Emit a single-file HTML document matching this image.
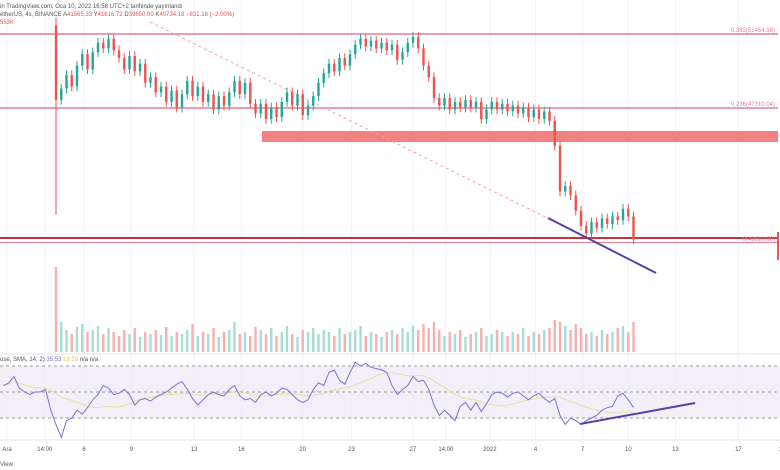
<!DOCTYPE html>
<html><head><meta charset="utf-8"><style>
html,body{margin:0;padding:0;background:#fff;}
svg{display:block;font-family:"Liberation Sans","Noto Sans CJK SC",sans-serif;}
</style></head><body>
<svg id="c" width="780" height="470" viewBox="0 0 780 470">
<rect x="0" y="0" width="780" height="470" fill="#fff"/>
<g id="grid"></g>
<rect x="0" y="366" width="780" height="52" fill="#ede8f7" opacity="0.7"/>
<line x1="0" y1="366" x2="780" y2="366" stroke="#999" stroke-dasharray="3,3"/>
<line x1="0" y1="392" x2="780" y2="392" stroke="#999" stroke-dasharray="3,3"/>
<line x1="0" y1="418" x2="780" y2="418" stroke="#999" stroke-dasharray="3,3"/>
<line x1="0" y1="354" x2="780" y2="354" stroke="#e0e3eb"/>
<line x1="0" y1="34" x2="778" y2="34" stroke="#e57f95" stroke-width="1.5"/>
<text x="775" y="32" font-size="6" fill="#e57f95" text-anchor="end">0.382(51454.98)</text>
<line x1="0" y1="108" x2="778" y2="108" stroke="#e57f95" stroke-width="1.5"/>
<text x="775" y="106" font-size="6" fill="#e57f95" text-anchor="end">0.236(47310.04)</text>
<rect x="262" y="131" width="516" height="11" fill="#f28282"/>
<line x1="0" y1="238" x2="778" y2="238" stroke="#c8323c" stroke-width="2"/>
<line x1="0" y1="242.5" x2="778" y2="242.5" stroke="#e57f95" stroke-width="1"/>
<text x="775" y="241" font-size="6" fill="#e57f95" text-anchor="end">0(40610.00)</text>
<line x1="778" y1="232" x2="778" y2="260" stroke="#ef5350" stroke-width="2"/>
<line x1="150" y1="22" x2="592" y2="240" stroke="#f2a0a8" stroke-dasharray="3,3"/>
<g id="vol"></g>
<g id="candles"></g>
<line x1="548" y1="218" x2="656" y2="273" stroke="#5b3ea6" stroke-width="2"/>
<path id="sma" fill="none" stroke="#e8df9c" stroke-width="1"/>
<path id="rsi" fill="none" stroke="#7e6fd0" stroke-width="1"/>
<line x1="580" y1="424" x2="695" y2="403" stroke="#5b3ea6" stroke-width="2"/>
<g id="xaxis"></g>
<line x1="0" y1="440" x2="780" y2="440" stroke="#e0e3eb"/>
<text x="0" y="8" font-size="6" fill="#555">in TradingView.com, Oca 10, 2022 16:58 UTC+2 tarihinde yayınlandı</text>
<text x="0" y="16" font-size="6" fill="#555">etherUS, 4s, BINANCE  A<tspan fill="#ef5350">41565.33</tspan> Y<tspan fill="#ef5350">41616.72</tspan> D<tspan fill="#ef5350">39650.00</tspan> K<tspan fill="#ef5350">40734.18 −831.16 (−2.00%)</tspan></text>
<text x="0" y="24" font-size="6" fill="#ef5350">553K</text>
<text x="0" y="361" font-size="6" fill="#555">ose, SMA, 14, 2) <tspan fill="#7e6fd0">35.53</tspan> <tspan fill="#d8c860">18.59</tspan> n/a n/a</text>
<text x="0" y="466" font-size="6" fill="#555">View</text>
</svg>
<script>
const open0 = 51.9;
const closes = [48.0,48.6,49.3,48.7,49.8,50.4,49.6,50.5,51.0,50.7,51.2,50.6,50.2,49.6,50.3,49.5,49.9,48.9,49.2,48.4,48.7,47.9,48.5,47.6,48.3,49.0,48.2,48.7,47.9,48.3,47.5,48.2,47.7,48.4,49.0,48.3,48.9,47.8,47.3,47.8,47.0,47.6,47.1,47.9,48.4,47.7,48.3,47.2,47.7,48.2,48.9,49.4,49.9,49.5,50.2,49.8,50.4,50.9,51.2,50.8,51.1,50.7,51.0,50.6,50.9,50.1,50.5,51.0,51.3,50.7,49.8,49.2,48.1,47.7,48.1,47.5,47.9,47.6,48.0,47.6,47.9,47.0,47.5,47.9,47.5,47.8,47.4,47.7,47.3,47.6,47.1,47.5,47.0,47.4,46.9,45.6,43.2,43.5,43.0,42.2,41.4,41.0,41.6,41.3,41.8,41.5,41.9,41.7,42.3,41.9,40.7];
const volumes = [85,30,22,18,25,28,20,22,26,18,24,20,16,22,18,24,15,20,18,22,17,25,16,20,18,22,28,16,20,18,24,15,20,22,30,18,20,16,25,22,18,24,16,20,26,18,15,22,20,24,18,22,20,16,24,18,20,22,26,16,20,18,15,20,22,18,24,20,26,22,28,24,30,22,16,20,18,22,15,18,20,24,16,18,22,20,16,20,18,24,16,20,18,22,24,32,30,26,22,28,24,18,20,16,22,18,20,24,26,20,30];
const rsiVals = [55,57,62,53,50,48,50,50,52,36,25,15,28,30,36,33,38,44,48,55,53,48,49,52,48,40,44,45,43,46,48,50,53,56,58,52,45,40,44,48,50,48,47,52,55,47,44,45,42,48,50,47,49,53,52,48,44,42,44,52,57,55,65,67,59,56,65,73,70,72,69,68,67,65,55,48,52,55,62,58,59,52,40,32,36,32,28,39,42,36,42,35,41,48,50,49,46,49,50,47,44,47,49,45,42,45,32,25,30,28,25,28,30,32,36,38,39,47,49,44,38];
const timeLabels = ["Ara","14:00","6","9","13","16","20","23","27","14:00","2022","4","7","10","13","17","20"];
const timeDays = [0.0,2.4,4.9,7.9,11.9,14.9,18.8,21.9,25.8,27.9,30.7,33.6,36.6,39.5,42.5,46.5,49.3];

const NS="http://www.w3.org/2000/svg";
const xOf = i => 56 + i*5.25;
const yP = p => 34 + (51.455 - p)*19.09;
const xDay = d => 7 + d*15.73;
const yR = r => 366 + (70 - r)*1.3;
const volBase = 352, volMax = 85, volH = 85;
function mk(tag, attrs, parent){const e=document.createElementNS(NS,tag);for(const k in attrs)e.setAttribute(k,attrs[k]);parent.appendChild(e);return e;}

const grid=document.getElementById('grid');
timeDays.forEach((d,i)=>{
  const l=mk('line',{x1:xDay(d),x2:xDay(d),y1:0,y2:440,stroke:'#f0f3fa'},grid);
  
  
  const t=mk('text',{x:xDay(d),y:451,'font-size':6,fill:'#555','text-anchor':'middle'},document.getElementById('xaxis'));
  t.textContent=timeLabels[i];
  
  
});

const cg=document.getElementById('candles'), vg=document.getElementById('vol');
let prev=open0;
closes.forEach((c,i)=>{
  const o=prev; prev=c;
  const up=c>=o;
  const col=up?'#26a69a':'#ef5350';
  const hi=Math.max(o,c)+0.25, lo=Math.min(o,c)-0.25;
  const x=xOf(i);
  const w=mk('line',{x1:x,x2:x,y1:yP(i===0?52.3:hi),y2:yP(i===0?42.0:lo),stroke:col,'stroke-width':1},cg);
  
  
  const top=yP(Math.max(o,c)), bot=yP(Math.min(o,c));
  const b=mk('rect',{x:x-1.2,y:top,width:2.4,height:Math.max(1,bot-top),fill:col},cg);
  
  
  const h=volumes[i]/volMax*volH;
  const v=mk('rect',{x:x-1.2,y:volBase-h,width:2.4,height:h,fill:up?'#a8ddd5':'#f7b0ae'},vg);
  
  
});

const rx = k => 3.5 + k*5.25;
let d='';
rsiVals.forEach((r,k)=>{d+=(k?'L':'M')+rx(k).toFixed(1)+','+yR(r).toFixed(1);});
document.getElementById('rsi').setAttribute('d',d);
let s='';
rsiVals.forEach((r,k)=>{const a=rsiVals.slice(Math.max(0,k-13),k+1);const m=a.reduce((p,q)=>p+q,0)/a.length;s+=(k?'L':'M')+rx(k).toFixed(1)+','+yR(m).toFixed(1);});
document.getElementById('sma').setAttribute('d',s);
</script>
</body></html>
